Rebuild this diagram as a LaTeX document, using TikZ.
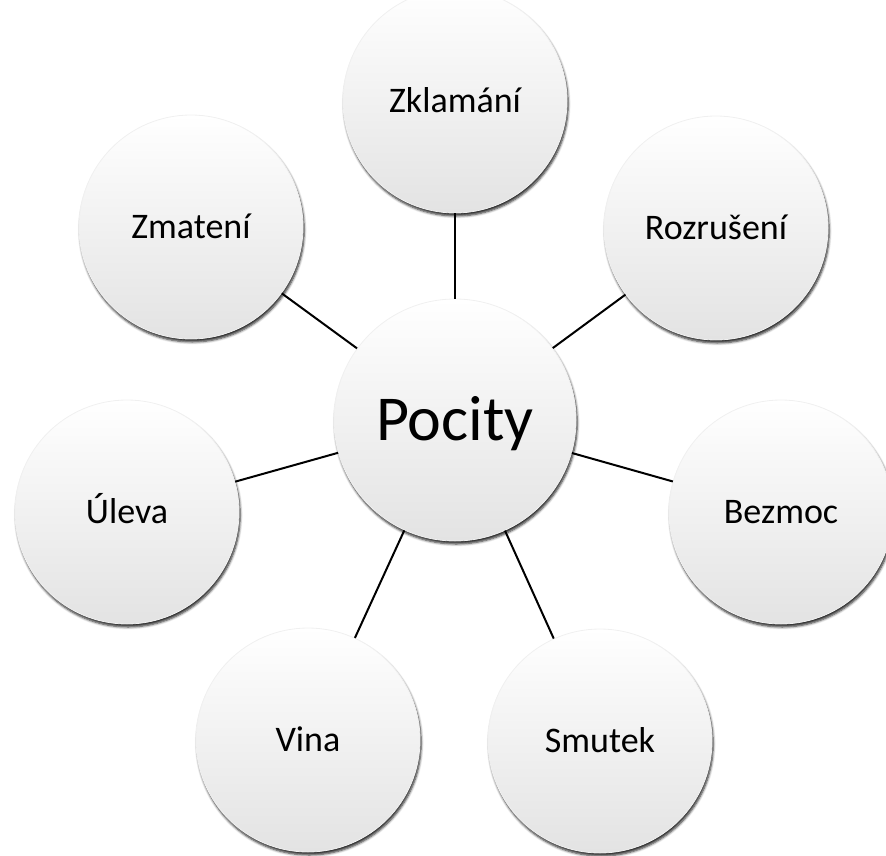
\documentclass[tikz,border=0pt]{standalone}
\usepackage{fontspec}
\setmainfont{Carlito}
\usetikzlibrary{shadows.blur}
\tikzset{
  bubble/.style={circle, draw=black!6, thin, top color=white, middle color=white,
    bottom color=black!11, minimum size=112pt, inner sep=0pt,
    blur shadow={shadow xshift=0.6pt, shadow yshift=-1.5pt, shadow blur radius=1.2pt,
      shadow blur steps=5, shadow opacity=85},
    font=\fontsize{18}{21}\selectfont, text height=11.5pt, text depth=0pt},
  hub/.style={bubble, minimum size=121pt, font=\fontsize{32}{38}\selectfont,
    text height=20.5pt}
}
\begin{document}
\begin{tikzpicture}[x=0.5pt, y=-0.5pt, line width=1pt]
  \useasboundingbox (0, 0) rectangle (886, 855);
  \node[hub] (pocity) at (455, 420) {Pocity};
  \node[bubble] (zklamani) at (455, 101) {Zklamání};
  \node[bubble] (rozruseni) at (716, 228) {Rozrušení};
  \node[bubble] (bezmoc) at (781, 512) {Bezmoc};
  \node[bubble] (smutek) at (600, 741) {Smutek};
  \node[bubble] (vina) at (308, 740) {Vina};
  \node[bubble] (uleva) at (127, 512) {Úleva};
  \node[bubble] (zmateni) at (191, 227) {Zmatení};
  \foreach \n in {zklamani, rozruseni, bezmoc, smutek, vina, uleva, zmateni} {
    \draw (pocity) -- (\n);
  }
\end{tikzpicture}
\end{document}
